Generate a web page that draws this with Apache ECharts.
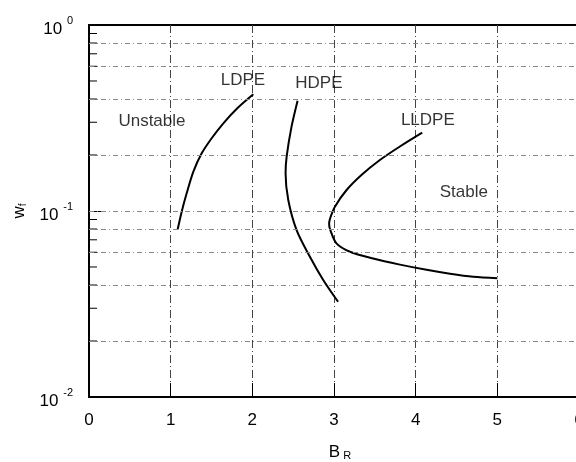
<!DOCTYPE html>
<html>
<head>
<meta charset="utf-8">
<script src="https://cdn.jsdelivr.net/npm/echarts@6/dist/echarts.min.js"></script>
<style>html,body{margin:0;padding:0;background:#fff;}#c{width:576px;height:462px;}</style>
</head>
<body>
<div id="c"></div>
<script>
// ---- data ----
const xTicks = [0, 1, 2, 3, 4, 5, 6];
const yTickExponents = [-2, -1, 0];
const yGridValues = [0.02, 0.04, 0.06, 0.08, 0.1, 0.2, 0.4, 0.6, 0.8];
const yMinorTicks = [0.02, 0.03, 0.04, 0.05, 0.06, 0.07, 0.08, 0.09, 0.2, 0.3, 0.4, 0.5, 0.6, 0.7, 0.8, 0.9];
const ldpe = [[1.086,0.0797],[1.135,0.0992],[1.196,0.1245],[1.278,0.1627],[1.380,0.2042],[1.502,0.246],[1.645,0.296],[1.816,0.3565],[2.012,0.4238]];
const hdpe = [[2.554,0.392],[2.48,0.284],[2.42,0.196],[2.407,0.1595],[2.44,0.1146],[2.542,0.079],[2.705,0.0568],[2.868,0.0426],[3.05,0.0325]];
const lldpe = [[4.08,0.2637],[3.807,0.2222],[3.562,0.188],[3.343,0.1571],[3.154,0.1297],[3.011,0.1055],[2.955,0.092],[2.94,0.0855],[2.955,0.079],[3.03,0.067],[3.195,0.0604],[3.48,0.0555],[3.807,0.0515],[4.133,0.0483],[4.42,0.0460],[4.704,0.0443],[5.0,0.0435]];
const annotationNames = ['Unstable', 'LDPE', 'HDPE', 'LLDPE', 'Stable'];
const annotationX = [0.771, 1.885, 2.815, 4.149, 4.59];
const annotationY = [0.305, 0.506, 0.488, 0.308, 0.1265];

const FONT = 'Liberation Sans';
const chart = echarts.init(document.getElementById('c'), null, {renderer: 'canvas'});
const curveStyle = {color: '#000', width: 2};

chart.setOption({
  animation: false,
  grid: {left: 89, top: 25, width: 490, height: 372, outerBoundsMode: 'none', containLabel: false,
    show: true, borderColor: '#000', borderWidth: 2, backgroundColor: 'transparent'},
  xAxis: {
    type: 'value', min: xTicks[0], max: xTicks[xTicks.length - 1], interval: 1,
    axisLine: {lineStyle: {color: '#000', width: 2}},
    axisTick: {inside: true, length: 14, lineStyle: {color: '#000', width: 1}},
    axisLabel: {margin: 15, fontFamily: FONT, fontSize: 17, color: '#000'},
    splitLine: {show: true, lineStyle: {color: '#444', width: 1, type: [8, 3, 1, 3]}},
    name: '{a|B}{b|R}', nameLocation: 'middle', nameGap: 46,
    nameTextStyle: {padding: [0, 0, 0, 12], rich: {
      a: {fontFamily: FONT, fontSize: 17, color: '#000', lineHeight: 18},
      b: {fontFamily: FONT, fontSize: 11, color: '#000', verticalAlign: 'bottom', lineHeight: 11, padding: [0,0,0,3]}
    }}
  },
  yAxis: {
    type: 'log', logBase: 10, min: Math.pow(10, yTickExponents[0]), max: Math.pow(10, yTickExponents[yTickExponents.length - 1]),
    axisLine: {lineStyle: {color: '#000', width: 2}},
    axisTick: {inside: true, length: 16, lineStyle: {color: '#000', width: 1}},
    splitLine: {show: false},
    axisLabel: {
      margin: 16, padding: [8, 0, 0, 0],
      formatter: function (v) { return '{b|10 }{s|' + Math.round(Math.log10(v)) + '}'; },
      rich: {
        b: {fontFamily: FONT, fontSize: 17, color: '#000', lineHeight: 28},
        s: {fontFamily: FONT, fontSize: 11, color: '#000', verticalAlign: 'top', lineHeight: 11}
      }
    },
    name: '{a|w}{b|f}', nameLocation: 'middle', nameRotate: 90, nameGap: 58,
    nameTextStyle: {rich: {
      a: {fontFamily: FONT, fontSize: 17, color: '#000', lineHeight: 18},
      b: {fontFamily: FONT, fontSize: 10, color: '#000', verticalAlign: 'bottom', lineHeight: 10}
    }}
  },
  series: [
    {
      type: 'line', name: 'grid', data: [], silent: true,
      markLine: {
        silent: true, symbol: ['none', 'none'], label: {show: false},
        lineStyle: {color: '#888', width: 1, type: [5, 3, 1, 3]},
        data: yGridValues.map(v => ({yAxis: v}))
      }
    },
    {
      type: 'custom', name: 'minorTicks', silent: true, clip: false,
      data: yMinorTicks.map(v => [xTicks[0], v]),
      renderItem: function (params, api) {
        const p = api.coord([api.value(0), api.value(1)]);
        return {type: 'line', shape: {x1: p[0], y1: p[1], x2: p[0] + 8, y2: p[1]}, style: {stroke: '#000', lineWidth: 1}};
      }
    },
    {type: 'line', name: 'LDPE', data: ldpe, smooth: 0.3, showSymbol: false, lineStyle: curveStyle, itemStyle: {color: '#000'}},
    {type: 'line', name: 'HDPE', data: hdpe, smooth: 0.3, showSymbol: false, lineStyle: curveStyle, itemStyle: {color: '#000'}},
    {type: 'line', name: 'LLDPE', data: lldpe, smooth: 0.3, showSymbol: false, lineStyle: curveStyle, itemStyle: {color: '#000'}},
    {
      type: 'scatter', name: 'labels', symbolSize: 0, silent: true,
      data: annotationNames.map((n, i) => ({name: n, value: [annotationX[i], annotationY[i]]})),
      label: {show: true, position: 'inside', formatter: '{b}', fontFamily: FONT, fontSize: 17, color: '#000'}
    }
  ]
});
</script>
</body>
</html>
